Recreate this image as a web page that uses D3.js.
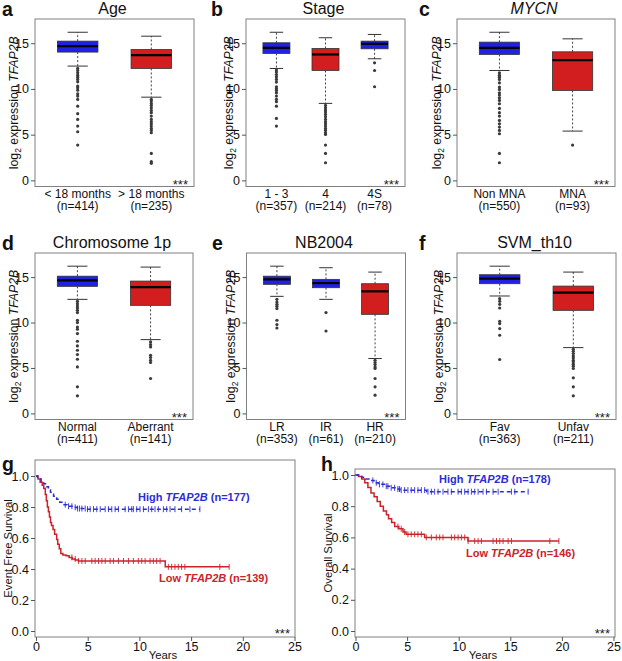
<!DOCTYPE html>
<html><head><meta charset="utf-8">
<script src="https://cdn.jsdelivr.net/npm/d3@7"></script>
<style>body{margin:0;background:#fff}</style>
</head><body><svg id="c" width="622" height="661"></svg>
<script>
// ================= DATA =================
const exprTicks = [0, 5, 10, 15];
// stats per group: [lower whisker, Q1, median, Q3, upper whisker]
const ageGroups = ["< 18 months", "> 18 months"];
const ageN = ["(n=414)", "(n=235)"];
const ageHigh = [true, false];
const ageStats = [[12.5, 14.03, 14.68, 15.23, 16.2], [9.1, 12.24, 13.7, 14.32, 15.77]];
const ageOutliers = [
  [12.24,12.02,11.77,11.51,11.29,11.04,10.78,10.31,10.13,9.87,9.47,9.22,8.85,8.12,7.29,6.67,5.94,5.32,3.86],
  [8.85,8.67,8.42,8.2,7.94,7.65,7.4,7.03,6.67,6.41,6.19,5.94,5.68,5.46,5.21,2.95,2.04,1.86]];

const stageGroups = ["1 - 3", "4", "4S"];
const stageN = ["(n=357)", "(n=214)", "(n=78)"];
const stageHigh = [true, false, true];
const stageStats = [[12.24, 13.88, 14.5, 15.05, 16.2], [8.42, 12.02, 13.77, 14.43, 15.6], [13.3, 14.39, 14.94, 15.23, 15.96]];
const stageOutliers = [
  [12.06,11.84,11.58,11.33,11.04,10.75,10.24,10.02,9.84,9.58,9.22,8.85,8.6,8.12,6.78,5.94],
  [8.2,7.94,7.69,7.47,7.21,6.96,6.67,6.41,6.19,5.94,5.68,5.46,5.21,5.03,3.86,2.95,1.93],
  [12.86,12.02,10.24]];

const mycnGroups = ["Non MNA", "MNA"];
const mycnN = ["(n=550)", "(n=93)"];
const mycnHigh = [true, false];
const mycnStats = [[12.02, 13.77, 14.5, 15.12, 16.2], [5.39, 9.84, 13.15, 14.06, 15.48]];
const mycnOutliers = [
  [11.77,11.51,11.29,11.04,10.67,10.2,9.95,9.58,9.33,9.03,8.74,8.38,7.87,7.4,7.03,6.56,6.19,5.83,5.46,5.1,2.95,1.93],
  [3.86]];

const chrGroups = ["Normal", "Aberrant"];
const chrN = ["(n=411)", "(n=141)"];
const chrHigh = [true, false];
const chrStats = [[12.55, 13.98, 14.64, 15.1, 16.2], [8.12, 11.89, 13.9, 14.56, 16.1]];
const chrOutliers = [
  [12.33,12.07,11.82,11.6,11.34,11.09,10.25,9.99,9.51,9.26,8.78,7.94,7.43,6.95,6.48,5.96,5.12,2.93,1.94],
  [7.87,7.57,7.32,6.4,6.15,5.85,5.6,3.84]];

const nbGroups = ["LR", "IR", "HR"];
const nbN = ["(n=353)", "(n=61)", "(n=210)"];
const nbHigh = [true, true, false];
const nbStats = [[12.88, 14.2, 14.75, 15.1, 16.2], [12.55, 13.83, 14.34, 14.75, 16.03], [6.04, 10.9, 13.43, 14.27, 15.55]];
const nbOutliers = [
  [12.55,12.26,12.0,11.78,11.53,10.25,9.77,9.4],
  [11.09,9.07],
  [5.85,5.6,5.38,5.12,4.94,3.84,2.93,2.01]];

const svmGroups = ["Fav", "Unfav"];
const svmN = ["(n=363)", "(n=211)"];
const svmHigh = [true, false];
const svmStats = [[12.92, 14.27, 14.82, 15.26, 16.2], [7.24, 11.34, 13.28, 14.01, 15.55]];
const svmOutliers = [
  [12.62,12.33,12.0,11.6,10.14,9.88,9.33,8.6,5.93],
  [7.06,6.84,6.59,6.33,6.11,5.85,5.67,5.42,5.2,4.94,3.92,2.93,1.94]];

// Kaplan-Meier curves
const survTicks = [0, 0.2, 0.4, 0.6, 0.8, 1.0];
const yearTicks = [0, 5, 10, 15, 20, 25];

const efsHighT = [0,0.15,0.3,0.5,0.75,1.0,1.2,1.4,1.7,2.0,2.3,2.6,3.0,3.5,4.0,4.8];
const efsHighS = [1,0.99,0.98,0.965,0.95,0.93,0.91,0.895,0.87,0.85,0.83,0.815,0.805,0.798,0.79,0.786];
const efsHighEnd = 15.85;
const efsHighCens = [2.83,3.15,3.47,3.79,4.02,4.21,4.44,4.76,4.98,5.24,5.56,5.88,6.21,6.69,7.01,7.33,7.65,7.97,8.62,8.94,9.26,9.42,9.74,10.06,10.39,10.87,11.19,11.51,11.83,12.32,12.64,12.96,13.44,14.08,14.89,15.85];

const efsLowT = [0,0.2,0.4,0.6,0.75,0.9,1.0,1.1,1.2,1.3,1.4,1.5,1.65,1.8,2.0,2.1,2.25,2.4,2.6,2.9,3.2,3.5,3.8,4.1,12.5];
const efsLowS = [1,0.98,0.96,0.94,0.92,0.88,0.84,0.80,0.77,0.735,0.70,0.68,0.655,0.625,0.59,0.56,0.53,0.50,0.49,0.485,0.475,0.465,0.458,0.452,0.414];
const efsLowEnd = 18.68;
const efsLowCens = [3.47,3.79,4.12,4.44,4.76,5.4,5.72,6.05,6.37,6.69,7.17,7.49,7.97,8.46,8.94,9.42,9.9,10.23,10.55,11.03,11.35,11.67,12.0,12.8,13.12,13.44,13.76,14.08,14.4,17.78,18.68];

const osHighT = [0,0.3,0.6,1.0,1.4,1.8,2.2,2.8,3.3,3.9,4.3,6.9];
const osHighS = [1,0.995,0.985,0.975,0.965,0.95,0.94,0.928,0.918,0.91,0.903,0.893];
const osHighEnd = 16.73;
const osHighCens = [1.68,2.01,2.33,2.65,2.98,3.14,3.46,3.79,4.11,4.27,4.43,4.76,5.08,5.4,5.73,6.05,6.38,6.7,7.02,7.35,7.67,8.0,8.48,8.96,9.29,9.94,10.26,10.58,10.91,11.23,11.55,11.88,12.36,12.69,13.33,13.82,15.11,15.44,16.73];

const osLowT = [0,0.3,0.6,0.9,1.2,1.5,1.8,2.1,2.4,2.7,3.0,3.2,3.5,3.8,4.2,4.6,4.9,6.7,10.9];
const osLowS = [1,0.99,0.975,0.95,0.92,0.885,0.86,0.83,0.80,0.77,0.745,0.72,0.695,0.67,0.655,0.635,0.62,0.60,0.577];
const osLowEnd = 19.71;
const osLowCens = [4.11,4.43,4.76,5.08,5.4,5.73,6.05,6.38,6.86,7.35,7.83,8.16,8.48,9.29,9.61,9.94,10.26,10.58,10.91,11.55,11.88,12.2,13.33,13.66,13.98,14.3,14.79,15.11,18.83,19.71];

// ================= DRAW =================
const svg = d3.select("#c");
const FONT = "'Liberation Sans', Arial, Helvetica, sans-serif";
const BLUE = "#2121e3", RED = "#d21e1e";
const LBLUE = "#2c2cd8", LRED = "#cc2229";

const boxPanels = [
  {letter:"a", title:"Age", italic:false, groups:ageGroups, ns:ageN, high:ageHigh, stats:ageStats, outliers:ageOutliers,
   x0:35, x1:194, y0:19, y1:186.5, ylabX:18, letterX:2},
  {letter:"b", title:"Stage", italic:false, groups:stageGroups, ns:stageN, high:stageHigh, stats:stageStats, outliers:stageOutliers,
   x0:246, x1:405, y0:19, y1:186.5, ylabX:233, letterX:211},
  {letter:"c", title:"MYCN", italic:true, groups:mycnGroups, ns:mycnN, high:mycnHigh, stats:mycnStats, outliers:mycnOutliers,
   x0:457, x1:615, y0:19, y1:186.5, ylabX:441, letterX:419},
  {letter:"d", title:"Chromosome 1p", italic:false, groups:chrGroups, ns:chrN, high:chrHigh, stats:chrStats, outliers:chrOutliers,
   x0:35, x1:193, y0:253, y1:419.5, ylabX:18, letterX:2},
  {letter:"e", title:"NB2004", italic:false, groups:nbGroups, ns:nbN, high:nbHigh, stats:nbStats, outliers:nbOutliers,
   x0:246.5, x1:405.5, y0:253, y1:419.5, ylabX:235, letterX:212},
  {letter:"f", title:"SVM_th10", italic:false, groups:svmGroups, ns:svmN, high:svmHigh, stats:svmStats, outliers:svmOutliers,
   x0:457, x1:616, y0:253, y1:419.5, ylabX:443, letterX:419}
];

function boxPanel(p) {
  const g = svg.append("g");
  const n = p.groups.length;
  const pad = 0.04 * n;
  const x = d3.scaleLinear().domain([0.5 - pad, n + 0.5 + pad]).range([p.x0, p.x1]);
  const y = d3.scaleLinear().domain([-0.67, 17.65]).range([p.y1, p.y0]);
  const bw = 0.55 * (x(2) - x(1));

  g.append("rect").attr("x", p.x0).attr("y", p.y0).attr("width", p.x1 - p.x0).attr("height", p.y1 - p.y0)
    .attr("fill", "none").attr("stroke", "#808080").attr("stroke-width", 1);

  const ax = g.append("g").attr("transform", `translate(${p.x0},0)`)
    .call(d3.axisLeft(y).tickValues(exprTicks).tickSize(4).tickPadding(2));
  ax.select(".domain").remove();
  ax.selectAll("line").attr("stroke", "#555");
  ax.selectAll("text").attr("font-family", FONT).attr("font-size", 12.5).attr("fill", "#111");

  p.groups.forEach((name, i) => {
    const cx = x(i + 1);
    const s = p.stats[i];
    const col = p.high[i] ? BLUE : RED;
    [[s[3], s[4]], [s[1], s[0]]].forEach(([a, b]) => {
      g.append("line").attr("x1", cx).attr("x2", cx).attr("y1", y(a)).attr("y2", y(b))
        .attr("stroke", "#444").attr("stroke-width", 1).attr("stroke-dasharray", "2,2");
      g.append("line").attr("x1", cx - bw / 4).attr("x2", cx + bw / 4).attr("y1", y(b)).attr("y2", y(b))
        .attr("stroke", "#333").attr("stroke-width", 1);
    });
    g.append("rect").attr("x", cx - bw / 2).attr("y", y(s[3])).attr("width", bw).attr("height", y(s[1]) - y(s[3]))
      .attr("fill", col).attr("stroke", "#333").attr("stroke-width", 0.8);
    g.append("line").attr("x1", cx - bw / 2).attr("x2", cx + bw / 2).attr("y1", y(s[2])).attr("y2", y(s[2]))
      .attr("stroke", "#000").attr("stroke-width", 2.2);
    g.selectAll(null).data(p.outliers[i]).enter().append("circle")
      .attr("cx", cx).attr("cy", d => y(d)).attr("r", 1.6).attr("fill", "#3a3a3a");
    g.append("text").attr("x", cx).attr("y", p.y1 + 11.5).attr("text-anchor", "middle")
      .attr("font-family", FONT).attr("font-size", 12).attr("fill", "#111").text(name);
    g.append("text").attr("x", cx).attr("y", p.y1 + 23.5).attr("text-anchor", "middle")
      .attr("font-family", FONT).attr("font-size", 12).attr("fill", "#111").text(p.ns[i]);
  });

  g.append("text").attr("x", (p.x0 + p.x1) / 2 - 2).attr("y", p.y0 - 5).attr("text-anchor", "middle")
    .attr("font-family", FONT).attr("font-size", 16).attr("fill", "#111")
    .attr("font-style", p.italic ? "italic" : "normal").text(p.title);
  g.append("text").attr("x", p.letterX).attr("y", p.y0 - 3).attr("font-family", FONT)
    .attr("font-size", 19.5).attr("font-weight", "bold").attr("fill", "#111").text(p.letter);
  const yl = g.append("text").attr("transform", `translate(${p.ylabX},${(p.y0 + p.y1) / 2}) rotate(-90)`)
    .attr("text-anchor", "middle").attr("font-family", FONT).attr("font-size", 12.3).attr("fill", "#111");
  yl.append("tspan").text("log");
  yl.append("tspan").attr("font-size", 8.5).attr("dy", 3).text("2");
  yl.append("tspan").attr("dy", -3).text(" expression ");
  yl.append("tspan").attr("font-style", "italic").text("TFAP2B");
  g.append("text").attr("x", p.x1 - 6).attr("y", p.y1 + 2.5).attr("text-anchor", "end")
    .attr("font-family", FONT).attr("font-size", 13).attr("fill", "#222").text("***");
}
boxPanels.forEach(boxPanel);

// ---------- survival panels ----------
const survPanels = [
  {letter:"g", ylabel:"Event Free Survival", bx0:35, bx1:295, by0:460, by1:637, xl:36, xr:294.5, yb:631, yt:476,
   letterX:2, ylabX:12,
   curves:[
     {t:efsHighT, s:efsHighS, end:efsHighEnd, cens:efsHighCens, high:true, n:"(n=177)", lx:138, ly:500.5},
     {t:efsLowT, s:efsLowS, end:efsLowEnd, cens:efsLowCens, high:false, n:"(n=139)", lx:159, ly:582}]},
  {letter:"h", ylabel:"Overall Survival", bx0:355, bx1:615, by0:469, by1:637, xl:355.5, xr:613.5, yb:631, yt:475,
   letterX:321, ylabX:332,
   curves:[
     {t:osHighT, s:osHighS, end:osHighEnd, cens:osHighCens, high:true, n:"(n=178)", lx:439, ly:483},
     {t:osLowT, s:osLowS, end:osLowEnd, cens:osLowCens, high:false, n:"(n=146)", lx:466, ly:557}]}
];

function survPanel(p) {
  const g = svg.append("g");
  const x = d3.scaleLinear().domain([0, 25]).range([p.xl, p.xr]);
  const y = d3.scaleLinear().domain([0, 1]).range([p.yb, p.yt]);

  g.append("rect").attr("x", p.bx0).attr("y", p.by0).attr("width", p.bx1 - p.bx0).attr("height", p.by1 - p.by0)
    .attr("fill", "none").attr("stroke", "#808080").attr("stroke-width", 1);

  const ay = g.append("g").attr("transform", `translate(${p.bx0},0)`)
    .call(d3.axisLeft(y).tickValues(survTicks).tickFormat(d3.format(".1f")).tickSize(4).tickPadding(2));
  ay.select(".domain").remove();
  const axb = g.append("g").attr("transform", `translate(0,${p.by1})`)
    .call(d3.axisBottom(x).tickValues(yearTicks).tickSize(4).tickPadding(1));
  axb.select(".domain").remove();
  [ay, axb].forEach(a => {
    a.selectAll("line").attr("stroke", "#555");
    a.selectAll("text").attr("font-family", FONT).attr("font-size", 12.5).attr("fill", "#111");
  });

  const line = d3.line().x(d => x(d[0])).y(d => y(d[1])).curve(d3.curveStepAfter);
  [p.curves[1], p.curves[0]].forEach(c => {
    const col = c.high ? LBLUE : LRED;
    const pts = c.t.map((t, i) => [t, c.s[i]]);
    pts.push([c.end, c.s[c.s.length - 1]]);
    g.append("path").attr("d", line(pts)).attr("fill", "none").attr("stroke", col)
      .attr("stroke-width", 1.5).attr("stroke-dasharray", c.high ? "4,3" : null);
    const surv = t => c.s[d3.bisectRight(c.t, t) - 1];
    g.selectAll(null).data(c.cens).enter().append("line")
      .attr("x1", d => x(d)).attr("x2", d => x(d))
      .attr("y1", d => y(surv(d)) - 3).attr("y2", d => y(surv(d)) + 3)
      .attr("stroke", col).attr("stroke-width", 0.9);
    const lt = g.append("text").attr("x", c.lx).attr("y", c.ly).attr("font-family", FONT)
      .attr("font-size", 11).attr("font-weight", "bold").attr("fill", col);
    lt.append("tspan").text(c.high ? "High " : "Low ");
    lt.append("tspan").attr("font-style", "italic").text("TFAP2B");
    lt.append("tspan").text(" " + c.n);
  });

  g.append("text").attr("x", p.letterX).attr("y", 471).attr("font-family", FONT)
    .attr("font-size", 19.5).attr("font-weight", "bold").attr("fill", "#111").text(p.letter);
  g.append("text").attr("transform", `translate(${p.ylabX},${(p.by0 + p.by1) / 2}) rotate(-90)`)
    .attr("text-anchor", "middle").attr("font-family", FONT).attr("font-size", 11.3).attr("fill", "#111").text(p.ylabel);
  g.append("text").attr("x", (p.bx0 + p.bx1) / 2 - 2).attr("y", 658.5).attr("text-anchor", "middle")
    .attr("font-family", FONT).attr("font-size", 11.3).attr("fill", "#111").text("Years");
  g.append("text").attr("x", p.bx1 - 5).attr("y", p.by1 + 1).attr("text-anchor", "end")
    .attr("font-family", FONT).attr("font-size", 13).attr("fill", "#222").text("***");
}
survPanels.forEach(survPanel);
</script>
</body></html>
